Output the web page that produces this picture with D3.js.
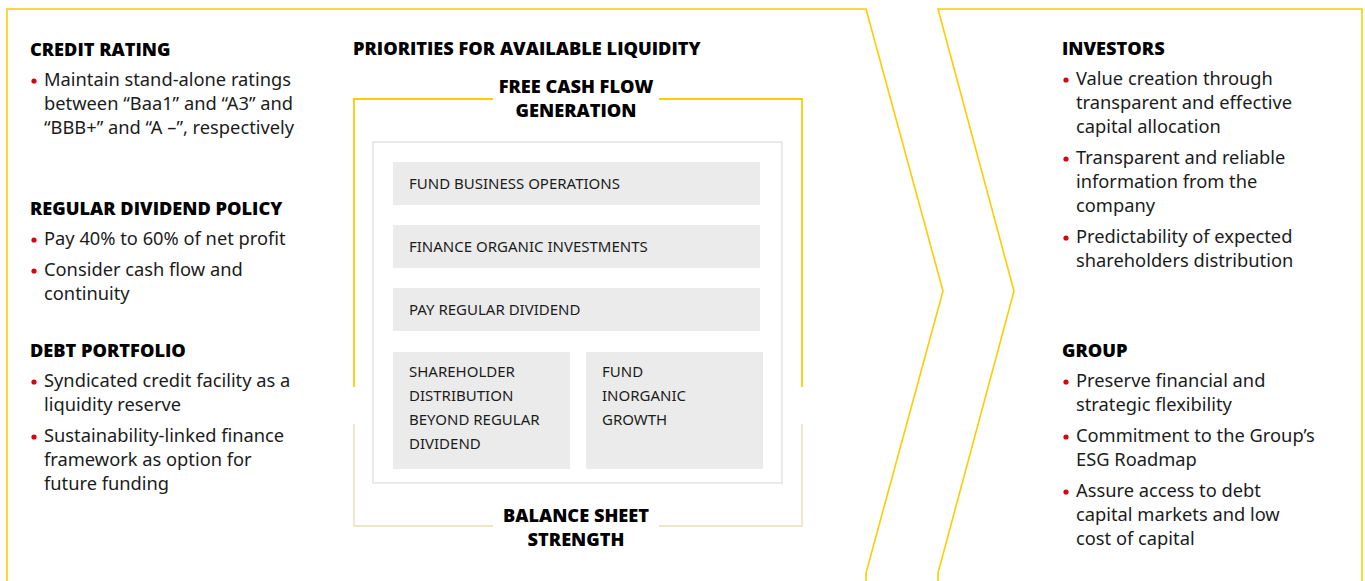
<!DOCTYPE html>
<html>
<head>
<meta charset="utf-8">
<script src="https://cdn.jsdelivr.net/npm/d3@7"></script>
<style>
  html, body { margin: 0; padding: 0; background: #fff; }
  svg { display: block; }
</style>
</head>
<body>
<div id="chart"></div>
<script>
// ---- content (text only) ----
const leftHeadings = ["CREDIT RATING", "REGULAR DIVIDEND POLICY", "DEBT PORTFOLIO"];
const leftBullets = [
  [["Maintain stand-alone ratings", "between \u201cBaa1\u201d and \u201cA3\u201d and", "\u201cBBB+\u201d and \u201cA \u2013\u201d, respectively"]],
  [["Pay 40% to 60% of net profit"], ["Consider cash flow and", "continuity"]],
  [["Syndicated credit facility as a", "liquidity reserve"], ["Sustainability-linked finance", "framework as option for", "future funding"]]
];
const rightHeadings = ["INVESTORS", "GROUP"];
const rightBullets = [
  [["Value creation through", "transparent and effective", "capital allocation"],
   ["Transparent and reliable", "information from the", "company"],
   ["Predictability of expected", "shareholders distribution"]],
  [["Preserve financial and", "strategic flexibility"],
   ["Commitment to the Group\u2019s", "ESG Roadmap"],
   ["Assure access to debt", "capital markets and low", "cost of capital"]]
];
const middleTitle = "PRIORITIES FOR AVAILABLE LIQUIDITY";
const topLabel = ["FREE CASH FLOW", "GENERATION"];
const bottomLabel = ["BALANCE SHEET", "STRENGTH"];
const priorityRows = ["FUND BUSINESS OPERATIONS", "FINANCE ORGANIC INVESTMENTS", "PAY REGULAR DIVIDEND"];
const priorityPair = [["SHAREHOLDER", "DISTRIBUTION", "BEYOND REGULAR", "DIVIDEND"], ["FUND", "INORGANIC", "GROWTH"]];

// ---- layout ----
const width = 1365, height = 581;
const yellow = "#ffcc00", red = "#d40511", ink = "#1c1c1c";
const headFont = "'Open Sans', 'Noto Sans', sans-serif";
const bodyFont = "'Noto Sans', 'Open Sans', sans-serif";
const headStyle = "800 18.2px " + headFont;
const bodyStyle = "400 18.3px " + bodyFont;
const boxStyle = "400 15px " + bodyFont;

const svg = d3.select("#chart").append("svg")
  .attr("width", width).attr("height", height);

// chevron outlines
const line = d3.line();
svg.append("path")
  .attr("d", line([[866, 640], [866, 573], [943, 291], [866, 9], [7, 9], [7, 640]]))
  .attr("fill", "none").attr("stroke", yellow).attr("stroke-width", 1.6);
svg.append("path")
  .attr("d", line([[938, 640], [938, 573], [1014, 291], [938, 9], [1362, 9], [1362, 640]]))
  .attr("fill", "none").attr("stroke", yellow).attr("stroke-width", 1.6);

// bullet column helper
function drawColumn(x, headingYs, headings, bullets) {
  headings.forEach(function(h, i) {
    const g = svg.append("g");
    g.append("text")
      .attr("x", x).attr("y", headingYs[i])
      .style("font", headStyle)
      .attr("fill", "#000")
      .text(h);
    let y = headingYs[i] + 30;
    bullets[i].forEach(function(lines) {
      g.append("circle")
        .attr("cx", x + 4).attr("cy", y - 5).attr("r", 2.6)
        .attr("fill", red);
      const t = g.append("text")
        .attr("x", x + 14).attr("y", y)
        .style("font", bodyStyle)
        .attr("fill", ink);
      t.selectAll("tspan").data(lines).enter().append("tspan")
        .attr("x", x + 14)
        .attr("dy", function(d, j) { return j === 0 ? 0 : 24; })
        .text(function(d) { return d; });
      y += 24 * (lines.length - 1) + 31;
    });
  });
}
drawColumn(30, [56, 215, 357], leftHeadings, leftBullets);
drawColumn(1062, [55, 357], rightHeadings, rightBullets);

// middle title
svg.append("text")
  .attr("x", 353).attr("y", 55)
  .style("font", headStyle)
  .attr("fill", "#000")
  .text(middleTitle);

// inner yellow frame (with gaps for labels and sides)
const fx0 = 354, fx1 = 802, fy0 = 99, fy1 = 526, gapL = 493, gapR = 659, sideBreak0 = 387, sideBreak1 = 424;
const pale = "#eee6c6";
svg.append("path")
  .attr("d", line([[gapL, fy0], [fx0, fy0], [fx0, sideBreak0]]) + line([[gapR, fy0], [fx1, fy0], [fx1, sideBreak0]]))
  .attr("fill", "none").attr("stroke", yellow).attr("stroke-width", 1.8);
svg.append("path")
  .attr("d", line([[fx0, sideBreak1], [fx0, fy1], [gapL, fy1]]) + line([[fx1, sideBreak1], [fx1, fy1], [gapR, fy1]]))
  .attr("fill", "none").attr("stroke", pale).attr("stroke-width", 1.8);

// frame labels
[[topLabel, 93], [bottomLabel, 522]].forEach(function(p) {
  const t = svg.append("text")
    .attr("x", 576).attr("y", p[1])
    .attr("text-anchor", "middle")
    .style("font", headStyle)
    .attr("fill", "#000");
  t.selectAll("tspan").data(p[0]).enter().append("tspan")
    .attr("x", 576)
    .attr("dy", function(d, j) { return j === 0 ? 0 : 24; })
    .text(function(d) { return d; });
});

// inner white box
svg.append("rect")
  .attr("x", 373).attr("y", 142).attr("width", 409).attr("height", 341)
  .attr("fill", "#fff").attr("stroke", "#e4e4e4").attr("stroke-width", 1.5);

// priority rows
const rowY = d3.scaleBand().domain(d3.range(priorityRows.length))
  .range([162, 162 + 63 * priorityRows.length - 20]).paddingInner(20 / 63);
const rows = svg.append("g").selectAll("g").data(priorityRows).enter().append("g");
rows.append("rect")
  .attr("x", 393).attr("y", function(d, i) { return rowY(i); })
  .attr("width", 367).attr("height", rowY.bandwidth())
  .attr("fill", "#ebebeb");
rows.append("text")
  .attr("x", 409).attr("y", function(d, i) { return rowY(i) + rowY.bandwidth() / 2 + 5.5; })
  .style("font", boxStyle)
  .attr("fill", ink)
  .text(function(d) { return d; });

// bottom pair of boxes
const pairX = d3.scaleBand().domain(d3.range(priorityPair.length))
  .range([393, 763]).paddingInner(0.083);
const pair = svg.append("g").selectAll("g").data(priorityPair).enter().append("g");
pair.append("rect")
  .attr("x", function(d, i) { return pairX(i); }).attr("y", 352)
  .attr("width", pairX.bandwidth()).attr("height", 117)
  .attr("fill", "#ebebeb");
pair.append("text")
  .attr("x", function(d, i) { return pairX(i) + 16; }).attr("y", 377)
  .style("font", boxStyle)
  .attr("fill", ink)
  .each(function(d, i) {
    d3.select(this).selectAll("tspan").data(d).enter().append("tspan")
      .attr("x", pairX(i) + 16)
      .attr("dy", function(s, j) { return j === 0 ? 0 : 24; })
      .text(function(s) { return s; });
  });
</script>
</body>
</html>
